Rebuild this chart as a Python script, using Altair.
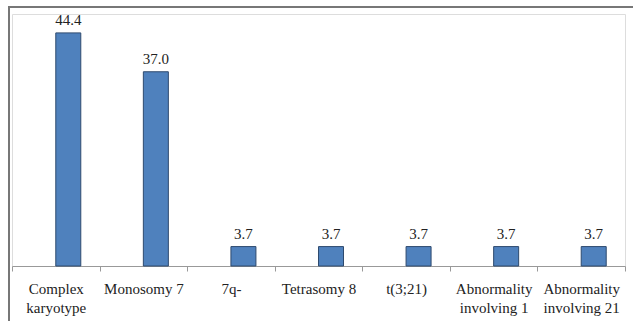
import altair as alt
import pandas as pd

categories = ["Complex\nkaryotype", "Monosomy 7", "7q-", "Tetrasomy 8", "t(3;21)",
              "Abnormality\ninvolving 1", "Abnormality\ninvolving 21"]
values = [44.4, 37.0, 3.7, 3.7, 3.7, 3.7, 3.7]
value_labels = ["44.4", "37.0", "3.7", "3.7", "3.7", "3.7", "3.7"]

df = pd.DataFrame({"cat": categories, "val": values, "lab": value_labels})

W, H = 613, 252
FONT = "Liberation Serif, Times New Roman, serif"

x = alt.X("cat:N", sort=categories, scale=alt.Scale(paddingInner=0, paddingOuter=0),
          axis=alt.Axis(title=None, labelAngle=0, labelFont=FONT, labelFontSize=15,
                        labelColor="#222", labelPadding=10, labelLineHeight=19,
                        labelExpr="split(datum.label, '\\n')", tickBand="extent",
                        tickSize=5, tickColor="#999", domainColor="#999",
                        labelBaseline="top", labelLimit=200))
y = alt.Y("val:Q", scale=alt.Scale(domain=[0, 48], nice=False), axis=None)

bars = alt.Chart(df).mark_bar(width=25, xOffset=12.5, color="#4F81BD",
                              stroke="#2E4A6E", strokeWidth=1).encode(x=x, y=y)
text = alt.Chart(df).mark_text(dx=12.5, dy=-5, baseline="bottom", font=FONT,
                               fontSize=15, color="#222").encode(
    x=alt.X("cat:N", sort=categories), y=y, text="lab:N")

one = pd.DataFrame({"a": [0]})
top_line = alt.Chart(one).mark_rule(stroke="#777", strokeWidth=2, clip=False).encode(
    x=alt.value(-4), x2=alt.value(W + 30), y=alt.value(-7))
left_line = alt.Chart(one).mark_rule(stroke="#777", strokeWidth=2, clip=False).encode(
    x=alt.value(-3), y=alt.value(-8), y2=alt.value(H + 80))

chart = alt.layer(top_line, left_line, bars, text).properties(
    width=W, height=H,
    autosize=alt.AutoSizeParams(type="none"),
    padding={"left": 12, "top": 14, "right": 8, "bottom": 55}
).configure_view(strokeWidth=0, stroke="transparent").configure(background="white")

chart.save("out.html", embed_options={"renderer": "svg", "actions": False})
